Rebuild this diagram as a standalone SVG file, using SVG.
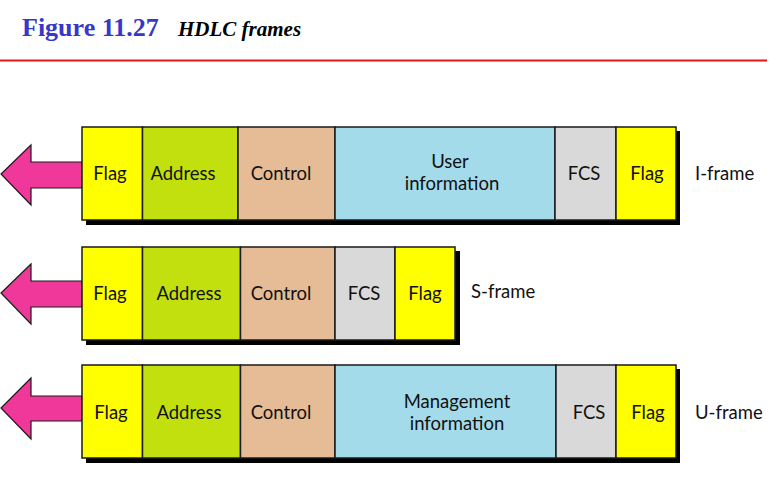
<svg xmlns="http://www.w3.org/2000/svg" width="777" height="495" viewBox="0 0 777 495">
<style>
.cell{stroke:#1a1a1a;stroke-width:1.5}
.flag{fill:#ffff00}.addr{fill:#c2e00e}.ctrl{fill:#e5bc96}.info{fill:#a3dbea}.fcs{fill:#d9d9d9}
.sh{fill:#000}
.arrow{fill:#f0389a;stroke:#1a1a1a;stroke-width:1.2}
.t{font-family:Lato,"Open Sans",sans-serif;font-size:18.5px;fill:#111;text-anchor:middle}
.lbl{font-family:Lato,"Open Sans",sans-serif;font-size:18.5px;fill:#111}
</style>
<rect width="777" height="495" fill="#fff"/>
<text x="22" y="36" font-family="Liberation Serif,serif" font-weight="bold" font-size="26" fill="#3737c8">Figure 11.27</text>
<text x="178" y="36" font-family="Liberation Serif,serif" font-weight="bold" font-style="italic" font-size="21" fill="#000">HDLC frames</text>
<line x1="0" y1="60.5" x2="767" y2="60.5" stroke="#e8141c" stroke-width="2"/>

<g id="connectors">
<polygon class="arrow" points="82,162 31,162 31,145 1,174 31,205 31,188 82,188"/>
<polygon class="arrow" points="82,281 31,281 31,264 1,293 31,324 31,307 82,307"/>
<polygon class="arrow" points="82,396 31,396 31,378 1,408 31,439 31,421 82,421"/>
</g>

<g id="iframe">
<rect class="sh" x="86" y="131" width="594" height="94"/>
<rect class="cell flag" x="82" y="127" width="60.5" height="93"/>
<rect class="cell addr" x="142.5" y="127" width="95.5" height="93"/>
<rect class="cell ctrl" x="238" y="127" width="97" height="93"/>
<rect class="cell info" x="335" y="127" width="220" height="93"/>
<rect class="cell fcs" x="555" y="127" width="61" height="93"/>
<rect class="cell flag" x="616" y="127" width="60" height="93"/>
<text class="t" x="110" y="179.5">Flag</text>
<text class="t" x="183" y="179.5">Address</text>
<text class="t" x="281" y="179.5">Control</text>
<text class="t" x="450" y="168">User</text>
<text class="t" x="452" y="190">information</text>
<text class="t" x="584" y="179.5">FCS</text>
<text class="t" x="647" y="179.5">Flag</text>
<text class="lbl" x="695" y="179.5">I-frame</text>
</g>

<g id="sframe">
<rect class="sh" x="86" y="251" width="374" height="94"/>
<rect class="cell flag" x="82" y="247" width="60.5" height="93"/>
<rect class="cell addr" x="142.5" y="247" width="98" height="93"/>
<rect class="cell ctrl" x="240.5" y="247" width="94.5" height="93"/>
<rect class="cell fcs" x="335" y="247" width="60" height="93"/>
<rect class="cell flag" x="395" y="247" width="60" height="93"/>
<text class="t" x="110" y="299.5">Flag</text>
<text class="t" x="189" y="299.5">Address</text>
<text class="t" x="281" y="299.5">Control</text>
<text class="t" x="364" y="299.5">FCS</text>
<text class="t" x="425" y="299.5">Flag</text>
<text class="lbl" x="471" y="298">S-frame</text>
</g>

<g id="uframe">
<rect class="sh" x="86" y="369" width="594" height="94"/>
<rect class="cell flag" x="82" y="365" width="60.5" height="93"/>
<rect class="cell addr" x="142.5" y="365" width="98" height="93"/>
<rect class="cell ctrl" x="240.5" y="365" width="94.5" height="93"/>
<rect class="cell info" x="335" y="365" width="221" height="93"/>
<rect class="cell fcs" x="556" y="365" width="60" height="93"/>
<rect class="cell flag" x="616" y="365" width="60" height="93"/>
<text class="t" x="111" y="418.5">Flag</text>
<text class="t" x="189" y="418.5">Address</text>
<text class="t" x="281" y="418.5">Control</text>
<text class="t" x="457" y="408">Management</text>
<text class="t" x="457" y="429.5">information</text>
<text class="t" x="589" y="418.5">FCS</text>
<text class="t" x="648" y="418.5">Flag</text>
<text class="lbl" x="695" y="418.5">U-frame</text>
</g>
</svg>
